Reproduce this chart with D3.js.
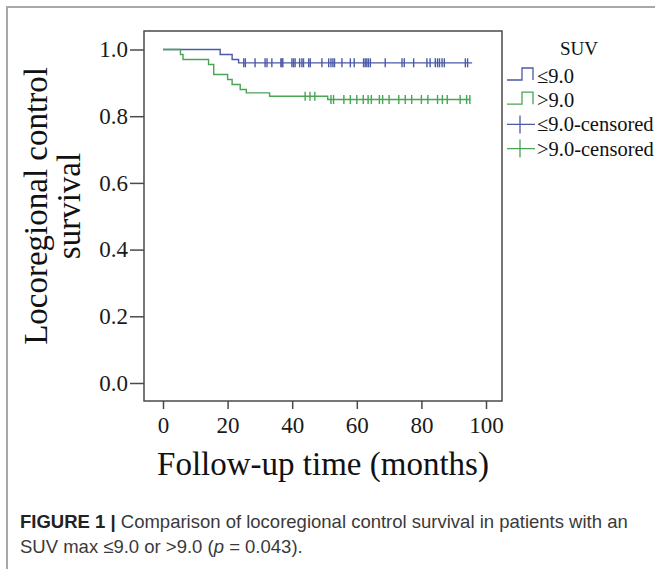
<!DOCTYPE html>
<html>
<head>
<meta charset="utf-8">
<script src="https://cdn.jsdelivr.net/npm/d3@7"></script>
<style>
  body { margin: 0; background: #fff; }
  svg { display: block; }
</style>
</head>
<body>
<svg id="chart" width="655" height="569"></svg>
<script>
// axis ticks
var xTicks = [0, 20, 40, 60, 80, 100];
var yTicks = [0.0, 0.2, 0.4, 0.6, 0.8, 1.0];

// SUV <= 9.0 : event times (months) and survival after each event
var lowEventTimes = [17.7, 21.4, 23.4];
var lowEventSurv  = [0.985, 0.97, 0.96];
var lowCensored = [25, 25.5, 28.5, 31.6, 32.2, 33.7, 36.5, 36.8, 37.1, 39.9, 40.4, 40.9,
  42.3, 43.0, 43.5, 45.1, 45.6, 49.2, 51.3, 52.0, 52.6, 53.1, 55.4, 58.0, 59.2,
  62.1, 62.6, 63.1, 63.6, 64.2, 68.8, 74.0, 74.7, 77.6, 81.7, 82.7, 84.3, 85.0,
  85.6, 86.4, 87.1, 93.6, 94.3];
var lowEnd = 95.7;

// SUV > 9.0
var highEventTimes = [5.4, 6.2, 14.1, 15.7, 20.0, 21.4, 23.9, 25.8, 33.0, 51.0];
var highEventSurv  = [0.985, 0.97, 0.955, 0.925, 0.91, 0.895, 0.88, 0.87, 0.86, 0.85];
var highCensored = [44, 45.5, 47, 52, 52.8, 56, 58, 60, 62, 63.5, 64.5, 67, 68, 70,
  73, 75, 77, 80, 82, 85, 86.5, 88, 92, 94, 95];
var highEnd = 95.2;

var legendLabels = ["\u22649.0", ">9.0", "\u22649.0-censored", ">9.0-censored"];
var blue = "#4a5aa8", green = "#47a553";

var svg = d3.select("#chart");
var serif = "'Liberation Serif', 'Times New Roman', serif";

// outer figure frame
svg.append("path")
  .attr("d", "M7,575 V7 H660")
  .attr("fill", "none")
  .attr("stroke", "#a8a8a8")
  .attr("stroke-width", 2);

var x = d3.scaleLinear().domain([0, 100]).range([163, 486]);
var y = d3.scaleLinear().domain([0, 1]).range([383, 49.5]);

// plot frame
svg.append("rect")
  .attr("x", 144).attr("y", 31)
  .attr("width", 358).attr("height", 370)
  .attr("fill", "#fff")
  .attr("stroke", "#4a4a4a")
  .attr("stroke-width", 1.5);

var yAxis = svg.append("g")
  .attr("transform", "translate(144,0)")
  .call(d3.axisLeft(y).tickValues(yTicks).tickFormat(d3.format(".1f"))
    .tickSize(14).tickPadding(2));
var xAxis = svg.append("g")
  .attr("transform", "translate(0,401)")
  .call(d3.axisBottom(x).tickValues(xTicks).tickFormat(d3.format("d"))
    .tickSize(8).tickPadding(8));

[yAxis, xAxis].forEach(function(g){
  g.select(".domain").remove();
  g.selectAll(".tick line").attr("stroke", "#4a4a4a").attr("stroke-width", 1.5);
  g.selectAll(".tick text")
    .attr("fill", "#1a1a1a")
    .style("font-family", serif)
    .style("font-size", "23px");
});

// survival curve helpers
function stepPoints(times, surv, end){
  var pts = [[0, 1]];
  for (var i = 0; i < times.length; i++) pts.push([times[i], surv[i]]);
  pts.push([end, surv[surv.length - 1]]);
  return pts;
}
function survAt(times, surv, t){
  var s = 1;
  for (var i = 0; i < times.length; i++) if (times[i] <= t) s = surv[i];
  return s;
}

var line = d3.line()
  .x(function(d){ return x(d[0]); })
  .y(function(d){ return y(d[1]); })
  .curve(d3.curveStepAfter);

var groups = [
  {times: lowEventTimes, surv: lowEventSurv, cens: lowCensored, end: lowEnd, color: blue},
  {times: highEventTimes, surv: highEventSurv, cens: highCensored, end: highEnd, color: green}
];

groups.forEach(function(g){
  svg.append("path")
    .datum(stepPoints(g.times, g.surv, g.end))
    .attr("d", line)
    .attr("fill", "none")
    .attr("stroke", g.color)
    .attr("stroke-width", 1.4);

  svg.append("g").selectAll("line")
    .data(g.cens)
    .enter().append("line")
    .attr("x1", function(d){ return x(d); })
    .attr("x2", function(d){ return x(d); })
    .attr("y1", function(d){ return y(survAt(g.times, g.surv, d)) - 4.5; })
    .attr("y2", function(d){ return y(survAt(g.times, g.surv, d)) + 4.5; })
    .attr("stroke", g.color)
    .attr("stroke-width", 1.4);
});

// axis titles
svg.append("text")
  .attr("x", 323).attr("y", 475)
  .attr("text-anchor", "middle")
  .style("font-family", serif).style("font-size", "33px")
  .attr("fill", "#111")
  .text("Follow-up time (months)");

var yTitle = svg.append("text")
  .attr("transform", "translate(47,206) rotate(-90)")
  .attr("text-anchor", "middle")
  .style("font-family", serif).style("font-size", "33px")
  .attr("fill", "#111");
yTitle.append("tspan").attr("x", 0).attr("y", 0).text("Locoregional control");
yTitle.append("tspan").attr("x", 0).attr("y", 33).text("survival");

// legend
svg.append("text")
  .attr("x", 560).attr("y", 55)
  .style("font-family", serif).style("font-size", "19px")
  .attr("fill", "#111")
  .text("SUV");

var legendColors = [blue, green, blue, green];
legendLabels.forEach(function(lab, i){
  var by = 83 + i * 24.2;
  var c = legendColors[i];
  if (i < 2) {
    svg.append("path")
      .attr("d", "M507," + (by - 3) + "H522V" + (by - 15) + "H533V" + (by - 3))
      .attr("fill", "none").attr("stroke", c).attr("stroke-width", 1.3);
  } else {
    svg.append("path")
      .attr("d", "M507," + (by - 7) + "H535M520," + (by - 16) + "V" + (by + 2))
      .attr("fill", "none").attr("stroke", c).attr("stroke-width", 1.3);
  }
  svg.append("text")
    .attr("x", 537).attr("y", by)
    .style("font-family", serif).style("font-size", "20.5px")
    .attr("fill", "#111")
    .text(lab);
});

// caption
var sans = "'Liberation Sans', Arial, sans-serif";
var cap1 = svg.append("text")
  .attr("x", 20).attr("y", 528)
  .style("font-family", sans).style("font-size", "18.5px")
  .attr("fill", "#3a3a3a");
cap1.append("tspan").style("font-weight", "bold").attr("fill", "#222").text("FIGURE 1 | ");
cap1.append("tspan").text("Comparison of locoregional control survival in patients with an");

var cap2 = svg.append("text")
  .attr("x", 20).attr("y", 553)
  .style("font-family", sans).style("font-size", "18.5px")
  .attr("fill", "#3a3a3a");
cap2.append("tspan").text("SUV max \u22649.0 or >9.0 (");
cap2.append("tspan").style("font-style", "italic").text("p");
cap2.append("tspan").text(" = 0.043).");
</script>
</body>
</html>
